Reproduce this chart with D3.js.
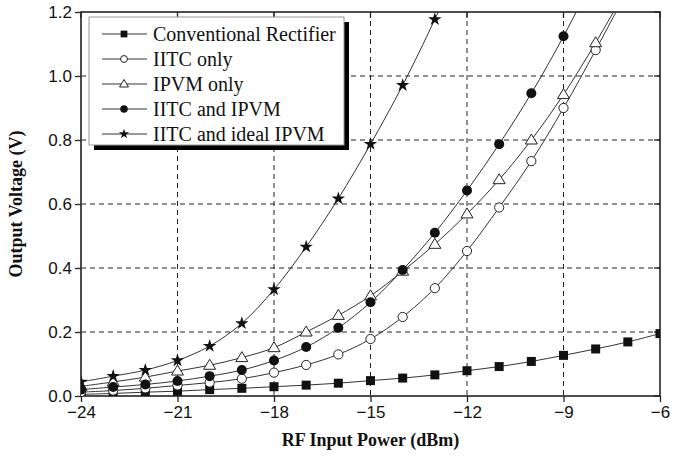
<!DOCTYPE html>
<html>
<head>
<meta charset="utf-8">
<script src="https://cdn.jsdelivr.net/npm/d3@7"></script>
<style>
  body { margin: 0; background: #fff; }
  .tick text { font-family: "Liberation Sans", Arial, sans-serif; font-size: 17px; fill: #111; }
  .axis-title { font-family: "Liberation Serif", "Times New Roman", serif; font-weight: bold; font-size: 18px; fill: #111; }
  .legend text { font-family: "Liberation Serif", "Times New Roman", serif; font-size: 20px; fill: #111; }
</style>
</head>
<body>
<div id="chart"></div>
<script>
// data, one value per dBm
const power = [-24, -23, -22, -21, -20, -19, -18, -17, -16, -15, -14, -13, -12, -11, -10, -9, -8, -7, -6];

const conventional = [0.005, 0.008, 0.012, 0.015, 0.020, 0.024, 0.029, 0.034, 0.040, 0.048, 0.056, 0.066, 0.079, 0.092, 0.108, 0.127, 0.147, 0.169, 0.195];
const iitcOnly     = [0.012, 0.017, 0.024, 0.033, 0.042, 0.054, 0.073, 0.097, 0.130, 0.178, 0.247, 0.337, 0.453, 0.589, 0.734, 0.900, 1.081, 1.27];
const ipvmOnly     = [0.030, 0.044, 0.059, 0.078, 0.096, 0.120, 0.151, 0.200, 0.252, 0.313, 0.390, 0.474, 0.569, 0.676, 0.800, 0.942, 1.104, 1.28];
const iitcIpvm     = [0.020, 0.028, 0.036, 0.047, 0.062, 0.081, 0.111, 0.153, 0.213, 0.293, 0.394, 0.510, 0.642, 0.787, 0.946, 1.124, 1.32];
const iitcIdeal    = [0.044, 0.062, 0.081, 0.111, 0.156, 0.227, 0.333, 0.466, 0.617, 0.787, 0.971, 1.177, 1.40];

const seriesNames = ["Conventional Rectifier", "IITC only", "IPVM only", "IITC and IPVM", "IITC and ideal IPVM"];
const seriesValues = [conventional, iitcOnly, ipvmOnly, iitcIpvm, iitcIdeal];
const markerKinds = ["square", "circle", "triangle", "dot", "star"];

const xTicks = [-24, -21, -18, -15, -12, -9, -6];
const yTicks = [0, 0.2, 0.4, 0.6, 0.8, 1.0, 1.2];

const width = 689, height = 457,
  margin = { top: 12, right: 29, bottom: 61, left: 81 };

const svg = d3.select("#chart").append("svg")
  .attr("width", width).attr("height", height);

const xScale = d3.scaleLinear().domain([-24, -6]).range([margin.left, width - margin.right]);
const yScale = d3.scaleLinear().domain([0, 1.2]).range([height - margin.bottom, margin.top]);

const x0 = xScale.range()[0], x1 = xScale.range()[1];
const y0 = yScale.range()[0], y1 = yScale.range()[1];

// dashed grid
const grid = svg.append("g").attr("stroke", "#222").attr("stroke-width", 1).attr("stroke-dasharray", "5,4");
grid.selectAll(".gx").data(xTicks.slice(1, -1)).join("line")
  .attr("x1", d => xScale(d)).attr("x2", d => xScale(d))
  .attr("y1", y1).attr("y2", y0);
grid.selectAll(".gy").data(yTicks.slice(1, -1)).join("line")
  .attr("x1", x0).attr("x2", x1)
  .attr("y1", d => yScale(d)).attr("y2", d => yScale(d));

// axes
svg.append("g")
  .attr("transform", `translate(0,${y0})`)
  .call(d3.axisBottom(xScale).tickValues(xTicks).tickSize(6).tickPadding(4).tickFormat(d3.format("d")))
  .call(g => g.select(".domain").remove());
svg.append("g")
  .attr("transform", `translate(${x0},0)`)
  .call(d3.axisLeft(yScale).tickValues(yTicks).tickSize(6).tickPadding(3).tickFormat(d3.format(".1f")))
  .call(g => g.select(".domain").remove());
svg.selectAll(".tick line").attr("stroke", "#222").attr("stroke-width", 1.3);

// inner ticks on top and right
svg.append("g").selectAll("line").data(xTicks).join("line")
  .attr("x1", d => xScale(d)).attr("x2", d => xScale(d))
  .attr("y1", y1).attr("y2", y1 + 6).attr("stroke", "#222").attr("stroke-width", 1.3);
svg.append("g").selectAll("line").data(yTicks).join("line")
  .attr("x1", x1).attr("x2", x1 - 6)
  .attr("y1", d => yScale(d)).attr("y2", d => yScale(d)).attr("stroke", "#222").attr("stroke-width", 1.3);

// frame
svg.append("rect")
  .attr("x", x0).attr("y", y1).attr("width", x1 - x0).attr("height", y0 - y1)
  .attr("fill", "none").attr("stroke", "#222").attr("stroke-width", 1.6);

// clip for curves
svg.append("clipPath").attr("id", "plot-clip")
  .append("rect").attr("x", x0).attr("y", y1).attr("width", x1 - x0).attr("height", y0 - y1);

const line = d3.line()
  .x(d => xScale(d[0])).y(d => yScale(d[1]))
  .curve(d3.curveCatmullRom);

function drawMarker(g, kind, cx, cy, s = 1) {
  if (kind === "square") {
    g.append("rect").attr("x", cx - 4.5 * s).attr("y", cy - 4.5 * s).attr("width", 9 * s).attr("height", 9 * s).attr("fill", "#111");
  } else if (kind === "circle") {
    g.append("circle").attr("cx", cx).attr("cy", cy).attr("r", 4.6 * s).attr("fill", "#fff").attr("stroke", "#222").attr("stroke-width", 1);
  } else if (kind === "dot") {
    g.append("circle").attr("cx", cx).attr("cy", cy).attr("r", 5 * s).attr("fill", "#111");
  } else if (kind === "triangle") {
    g.append("path").attr("d", `M${cx},${cy - 6 * s}L${cx + 6 * s},${cy + 4 * s}L${cx - 6 * s},${cy + 4 * s}Z`)
      .attr("fill", "#fff").attr("stroke", "#222").attr("stroke-width", 1);
  } else if (kind === "star") {
    g.append("path").attr("d", d3.symbol(d3.symbolStar, 56 * s * s)()).attr("transform", `translate(${cx},${cy})`).attr("fill", "#111");
  }
}

const plot = svg.append("g").attr("clip-path", "url(#plot-clip)");
seriesValues.forEach((vals, i) => {
  const pts = vals.map((v, j) => [power[j], v]);
  plot.append("path").datum(pts).attr("d", line)
    .attr("fill", "none").attr("stroke", "#333").attr("stroke-width", 1);
});
// draw markers after all lines so they sit on top
seriesValues.forEach((vals, i) => {
  const g = plot.append("g");
  vals.forEach((v, j) => {
    if (v <= 1.2) drawMarker(g, markerKinds[i], xScale(power[j]), yScale(v));
  });
});

// axis titles
svg.append("text").attr("class", "axis-title")
  .attr("x", (x0 + x1) / 2).attr("y", 446).attr("text-anchor", "middle")
  .text("RF Input Power (dBm)");
svg.append("text").attr("class", "axis-title")
  .attr("transform", `translate(22,${(y0 + y1) / 2}) rotate(-90)`)
  .attr("text-anchor", "middle")
  .text("Output Voltage (V)");

// legend with drop shadow
const legend = svg.append("g").attr("class", "legend");
const lx = 89, ly = 17, lw = 255, lh = 128;
legend.append("rect").attr("x", lx + 5).attr("y", ly + 5).attr("width", lw).attr("height", lh).attr("fill", "#000");
legend.append("rect").attr("x", lx).attr("y", ly).attr("width", lw).attr("height", lh)
  .attr("fill", "#fff").attr("stroke", "#999").attr("stroke-width", 1);
seriesNames.forEach((name, i) => {
  const cy = ly + 17 + i * 25;
  legend.append("line").attr("x1", lx + 13).attr("x2", lx + 58).attr("y1", cy).attr("y2", cy)
    .attr("stroke", "#333").attr("stroke-width", 1);
  drawMarker(legend, markerKinds[i], lx + 35, cy, 0.75);
  legend.append("text").attr("x", lx + 64).attr("y", cy + 7).text(name);
});
</script>
</body>
</html>
